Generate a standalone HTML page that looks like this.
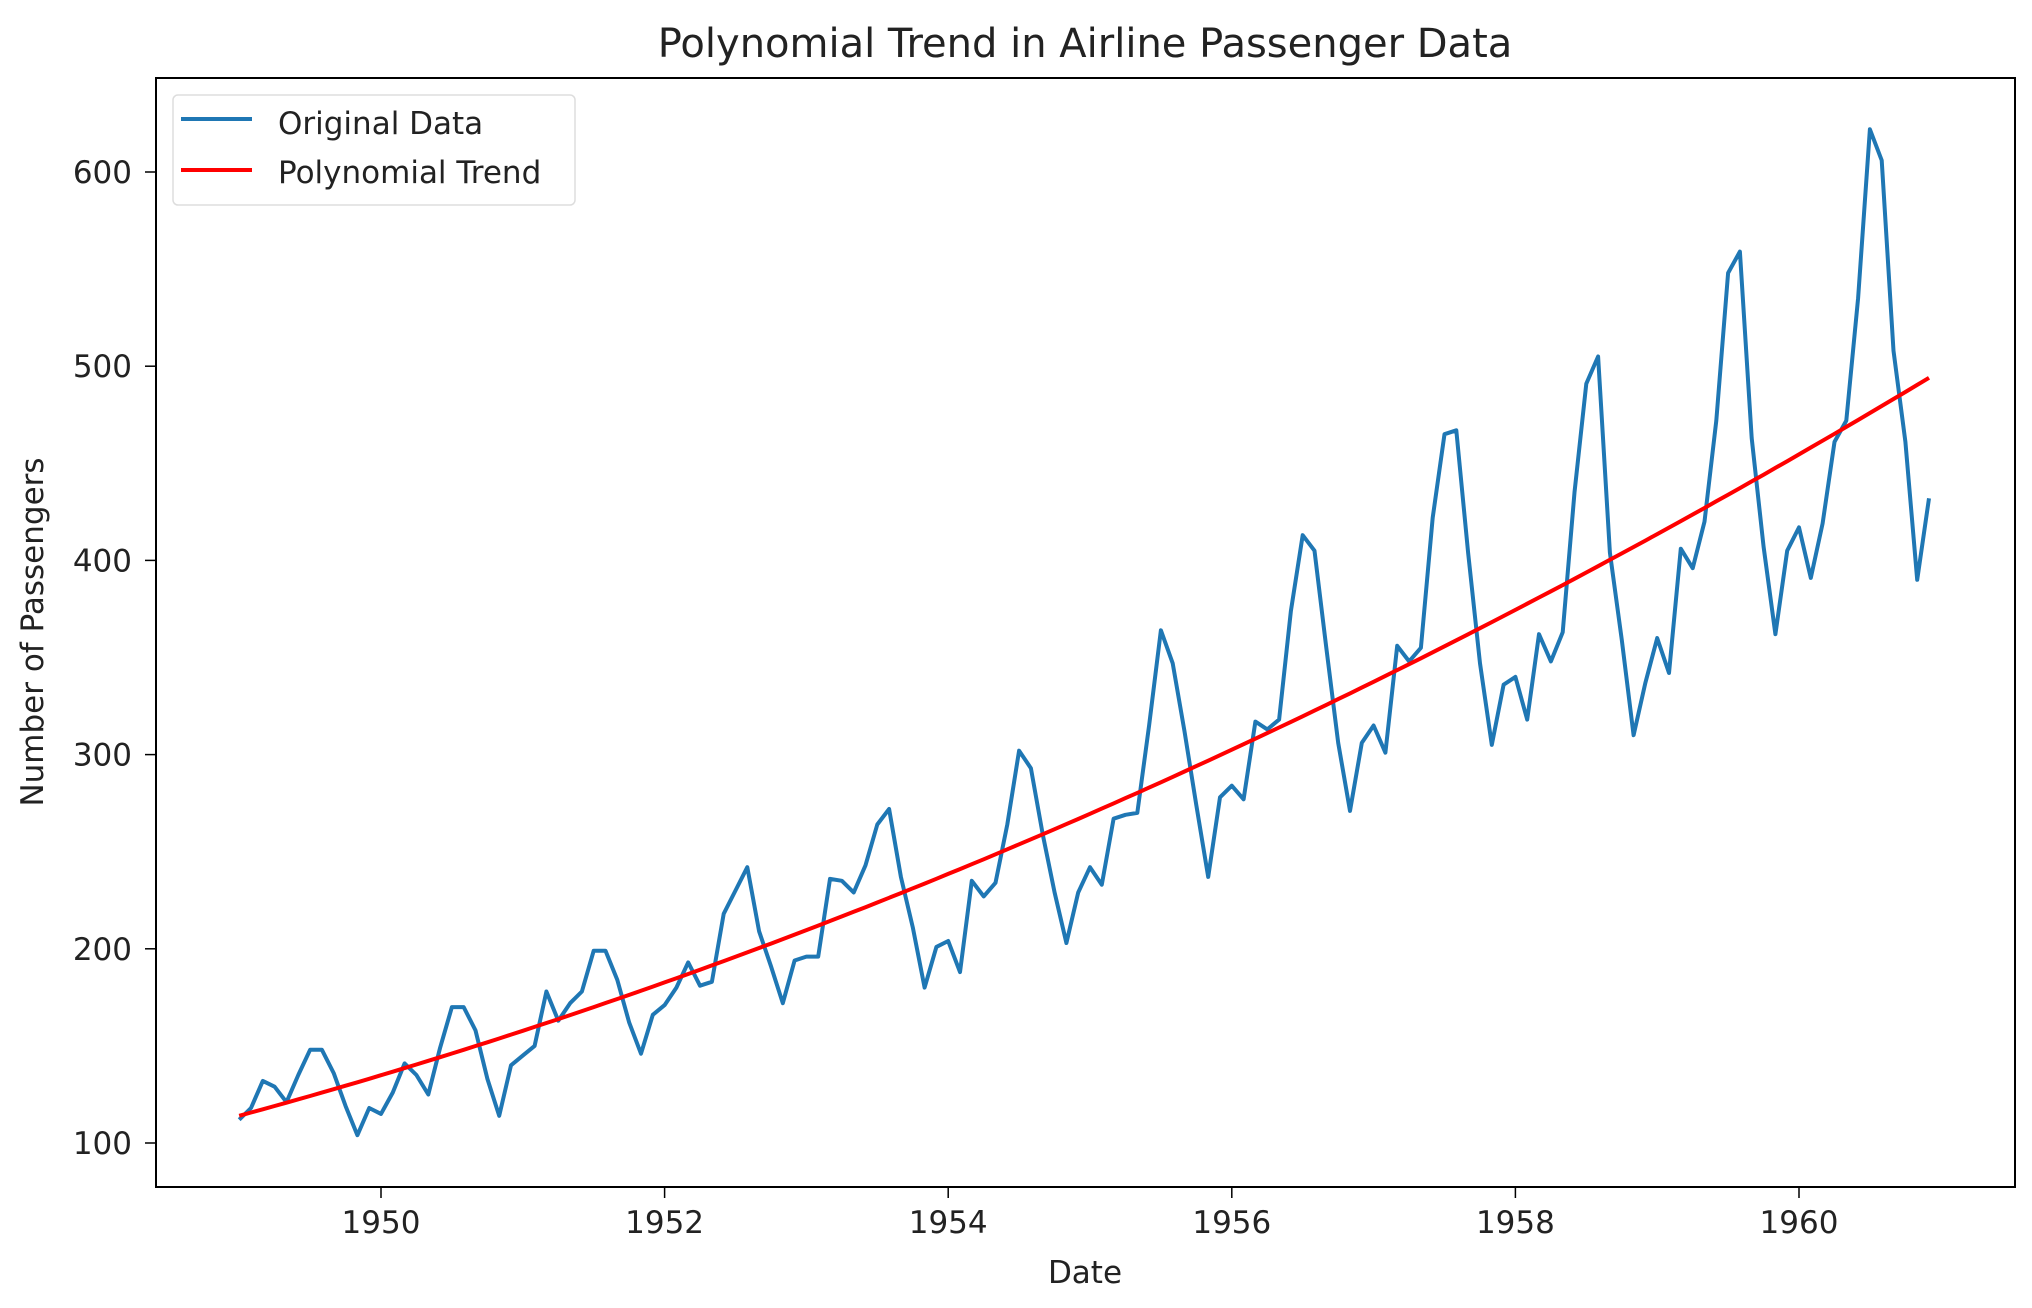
<!DOCTYPE html>
<html><head><meta charset="utf-8"><style>
html,body{margin:0;padding:0;background:#fff;}
svg{display:block;font-family:"DejaVu Sans","Liberation Sans",sans-serif;}
</style></head><body>
<svg id="chart" width="2032" height="1308" viewBox="0 0 2032 1308" xmlns="http://www.w3.org/2000/svg">
<rect width="2032" height="1308" fill="#fff"/>
<text x="1085" y="57" font-size="40" text-anchor="middle" fill="#222">Polynomial Trend in Airline Passenger Data</text>
<g id="plot"></g>
<rect x="156" y="78" width="1859" height="1109" fill="none" stroke="#000" stroke-width="2"/>
<g id="xticks"></g><g id="yticks"></g>
<text x="1085" y="1283" font-size="31" text-anchor="middle" fill="#222">Date</text>
<text x="0" y="0" font-size="31" text-anchor="middle" fill="#222" transform="translate(43,632) rotate(-90)">Number of Passengers</text>
<g>
<rect x="173" y="95" width="402" height="110" rx="5" fill="#fff" stroke="#ddd" stroke-width="1.5"/>
<line x1="181" y1="119" x2="252" y2="119" stroke="#1f77b4" stroke-width="4"/>
<text x="278" y="134" font-size="31" fill="#222">Original Data</text>
<line x1="181" y1="170" x2="252" y2="170" stroke="#ff0000" stroke-width="4"/>
<text x="278" y="183" font-size="31" fill="#222">Polynomial Trend</text>
</g>
</svg>
<script>
const startYear = 1949;
const passengers = [
112,118,132,129,121,135,148,148,136,119,104,118,
115,126,141,135,125,149,170,170,158,133,114,140,
145,150,178,163,172,178,199,199,184,162,146,166,
171,180,193,181,183,218,230,242,209,191,172,194,
196,196,236,235,229,243,264,272,237,211,180,201,
204,188,235,227,234,264,302,293,259,229,203,229,
242,233,267,269,270,315,364,347,312,274,237,278,
284,277,317,313,318,374,413,405,355,306,271,306,
315,301,356,348,355,422,465,467,404,347,305,336,
340,318,362,348,363,435,491,505,404,359,310,337,
360,342,406,396,420,472,548,559,463,407,362,405,
417,391,419,461,472,535,622,606,508,461,390,432];
const xTickLabels = [1950,1952,1954,1956,1958,1960];
const yTickLabels = [100,200,300,400,500,600];

const NS = "http://www.w3.org/2000/svg";
function xs(yr){ return 381 + (yr - 1950) * 141.8; }
function ys(v){ return 1143 - (v - 100) * 1.942; }
function dateOf(i){ return startYear + i / 12; }

function polyfit2(ys_){
  const n = ys_.length; let S=[0,0,0,0,0], T=[0,0,0];
  for(let i=0;i<n;i++){ let p=1; for(let k=0;k<5;k++){S[k]+=p; if(k<3)T[k]+=p*ys_[i]; p*=i;} }
  const A=[[S[0],S[1],S[2],T[0]],[S[1],S[2],S[3],T[1]],[S[2],S[3],S[4],T[2]]];
  for(let c=0;c<3;c++){ for(let r=c+1;r<3;r++){ const f=A[r][c]/A[c][c]; for(let k=c;k<4;k++) A[r][k]-=f*A[c][k]; } }
  const x=[0,0,0];
  for(let r=2;r>=0;r--){ let s=A[r][3]; for(let k=r+1;k<3;k++) s-=A[r][k]*x[k]; x[r]=s/A[r][r]; }
  return x;
}
const coef = polyfit2(passengers);
const trend = passengers.map((_,i)=>coef[0]+coef[1]*i+coef[2]*i*i);

const plot = document.getElementById('plot');
const p1 = document.createElementNS(NS,'polyline');
p1.setAttribute('points', passengers.map((v,i)=>xs(dateOf(i)).toFixed(1)+','+ys(v).toFixed(1)).join(' '));
p1.setAttribute('fill','none'); p1.setAttribute('stroke','#1f77b4'); p1.setAttribute('stroke-width','4'); p1.setAttribute('stroke-linejoin','round');


plot.appendChild(p1);
const p2 = document.createElementNS(NS,'polyline');
p2.setAttribute('points', trend.map((v,i)=>xs(dateOf(i)).toFixed(1)+','+ys(v).toFixed(1)).join(' '));
p2.setAttribute('fill','none'); p2.setAttribute('stroke','#ff0000'); p2.setAttribute('stroke-width','4');


plot.appendChild(p2);

const xg = document.getElementById('xticks');
xTickLabels.forEach(t=>{
  const x = xs(t);
  const l = document.createElementNS(NS,'line');
  l.setAttribute('x1',x); l.setAttribute('x2',x); l.setAttribute('y1',1187); l.setAttribute('y2',1198);
  l.setAttribute('stroke','#000'); l.setAttribute('stroke-width','1.5');
  
  
  xg.appendChild(l);
  const tx = document.createElementNS(NS,'text');
  tx.setAttribute('x',x); tx.setAttribute('y',1233); tx.setAttribute('font-size','31'); tx.setAttribute('text-anchor','middle'); tx.setAttribute('fill','#222');
  tx.textContent = t;
  
  
  xg.appendChild(tx);
});
const yg = document.getElementById('yticks');
yTickLabels.forEach(t=>{
  const y = ys(t);
  const l = document.createElementNS(NS,'line');
  l.setAttribute('x1',145); l.setAttribute('x2',156); l.setAttribute('y1',y); l.setAttribute('y2',y);
  l.setAttribute('stroke','#000'); l.setAttribute('stroke-width','1.5');
  
  
  yg.appendChild(l);
  const tx = document.createElementNS(NS,'text');
  tx.setAttribute('x',132); tx.setAttribute('y',y+11); tx.setAttribute('font-size','31'); tx.setAttribute('text-anchor','end'); tx.setAttribute('fill','#222');
  tx.textContent = t;
  
  
  yg.appendChild(tx);
});
</script>
</body></html>
